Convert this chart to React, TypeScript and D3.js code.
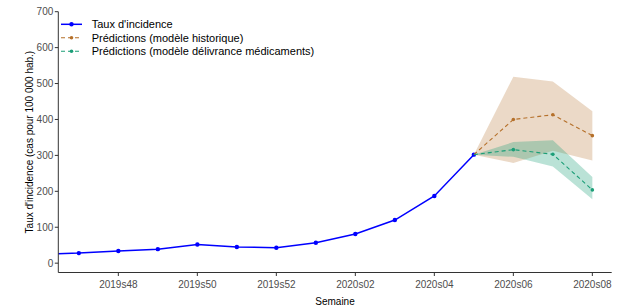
import * as d3 from "d3";
import React from "react";

// weeks on the x axis (index = position)
const weeks = [
  "2019s46", "2019s47", "2019s48", "2019s49", "2019s50", "2019s51", "2019s52",
  "2020s01", "2020s02", "2020s03", "2020s04", "2020s05", "2020s06", "2020s07", "2020s08",
];
const tickWeeks = ["2019s48", "2019s50", "2019s52", "2020s02", "2020s04", "2020s06", "2020s08"];
const yTicks = [0, 100, 200, 300, 400, 500, 600, 700];

// observed incidence
const incidence = [25, 28, 34, 39, 52, 45, 43, 57, 81, 120, 187, 302];

// predictions
const predWeeks = ["2020s05", "2020s06", "2020s07", "2020s08"];
const histPred = [302, 400, 413, 355];
const histLow = [302, 279, 313, 286];
const histHigh = [302, 519, 506, 423];
const medPred = [302, 316, 303, 204];
const medLow = [302, 296, 269, 178];
const medHigh = [302, 337, 342, 240];

const legendLabels = [
  "Taux d'incidence",
  "Prédictions (modèle historique)",
  "Prédictions (modèle délivrance médicaments)",
];

const BLUE = "#0000ff";
const BROWN = "#b5702a";
const GREEN = "#1b9e77";
const FONT = "'Liberation Sans', Arial, Helvetica, sans-serif";

const W = 627;
const H = 308;
const left = 58.3;
const right = 611.7;
const top = 11.7;
const bottom = 272.5;

const App = () => {
  const x = d3.scaleLinear().domain([0.48, 14.49]).range([left, right]);
  const y = d3.scaleLinear().domain([-26, 700]).range([bottom, top]);
  const wx = (w: string) => x(weeks.indexOf(w));

  const line = d3
    .line<[number, number]>()
    .x((d) => d[0])
    .y((d) => d[1]);
  const area = d3
    .area<[number, number, number]>()
    .x((d) => d[0])
    .y0((d) => d[1])
    .y1((d) => d[2]);

  const obsPts: [number, number][] = incidence.map((v, i) => [x(i), y(v)]);
  const mk = (vals: number[]): [number, number][] =>
    vals.map((v, i) => [wx(predWeeks[i]), y(v)]);
  const band = (lo: number[], hi: number[]): [number, number, number][] =>
    lo.map((v, i) => [wx(predWeeks[i]), y(v), y(hi[i])]);

  const series = [
    { pts: mk(histPred), band: band(histLow, histHigh), color: BROWN, fill: "rgb(205,160,115)", op: 0.4 },
    { pts: mk(medPred), band: band(medLow, medHigh), color: GREEN, fill: "rgb(27,158,119)", op: 0.3 },
  ];

  const legendColors = [BLUE, BROWN, GREEN];

  return (
    <svg
      width={W}
      height={H}
      style={{ position: "absolute", left: 0, top: 0, background: "#fff" }}
      fontFamily={FONT}
    >
      <defs>
        <clipPath id="plot">
          <rect x={left} y={0} width={right - left} height={bottom} />
        </clipPath>
      </defs>

      <g clipPath="url(#plot)">
        {series.map((s, i) => (
          <path key={"b" + i} d={area(s.band) || ""} fill={s.fill} fillOpacity={s.op} stroke="none" />
        ))}
        <path d={line(obsPts) || ""} fill="none" stroke={BLUE} strokeWidth={1.5} />
        {obsPts.map((p, i) => (
          <circle key={"o" + i} cx={p[0]} cy={p[1]} r={2.2} fill={BLUE} />
        ))}
        {series.map((s, i) => (
          <g key={"s" + i}>
            <path d={line(s.pts) || ""} fill="none" stroke={s.color} strokeWidth={1.1} strokeDasharray="4,3" />
            {s.pts.slice(1).map((p, j) => (
              <circle key={j} cx={p[0]} cy={p[1]} r={1.8} fill={s.color} />
            ))}
          </g>
        ))}
      </g>

      {/* axes */}
      <line x1={left} x2={left} y1={top} y2={bottom} stroke="#333" strokeWidth={1} />
      <line x1={left} x2={right} y1={bottom} y2={bottom} stroke="#333" strokeWidth={1} />
      {yTicks.map((t) => (
        <g key={t} transform={`translate(0,${y(t)})`}>
          <line x1={left - 3.5} x2={left} stroke="#333" />
          <text x={left - 5} dy="0.35em" textAnchor="end" fontSize={10} fill="#4d4d4d">
            {t}
          </text>
        </g>
      ))}
      {tickWeeks.map((w) => (
        <g key={w} transform={`translate(${wx(w)},0)`}>
          <line y1={bottom} y2={bottom + 3.5} stroke="#333" />
          <text y={bottom + 15.5} textAnchor="middle" fontSize={10} fill="#4d4d4d">
            {w}
          </text>
        </g>
      ))}
      <text x={335} y={305} textAnchor="middle" fontSize={10} fill="#000">
        Semaine
      </text>
      <text
        transform={`translate(33,${(top + bottom) / 2}) rotate(-90)`}
        textAnchor="middle"
        fontSize={10}
        fill="#000"
      >
        Taux d'incidence (cas pour 100 000 hab.)
      </text>

      {/* legend */}
      {legendLabels.map((lab, i) => {
        const ly = 24.3 + i * 13.5;
        return (
          <g key={lab}>
            <line
              x1={61}
              x2={82}
              y1={ly}
              y2={ly}
              stroke={legendColors[i]}
              strokeWidth={i === 0 ? 1.5 : 1.1}
              strokeDasharray={i === 0 ? undefined : "4,3"}
            />
            <circle cx={71.5} cy={ly} r={i === 0 ? 2.2 : 1.8} fill={legendColors[i]} />
            <text x={91.7} y={ly} dy="0.35em" fontSize={11} fill="#000">
              {lab}
            </text>
          </g>
        );
      })}
    </svg>
  );
};

export default App;
